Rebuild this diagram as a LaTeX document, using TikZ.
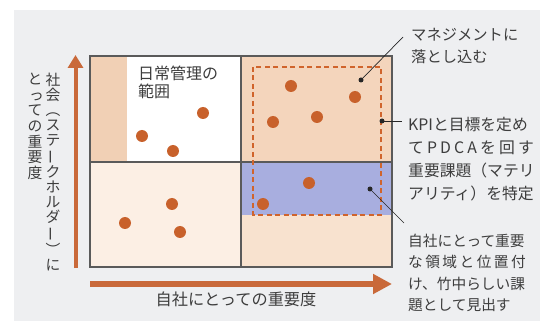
\documentclass[tikz,border=0pt]{standalone}
\usepackage{fontspec}
\usepackage{graphicx}
\setmainfont{Noto Sans CJK JP}
\usetikzlibrary{arrows.meta}
\definecolor{bggray}{HTML}{EEEFF1}
\definecolor{tlstrip}{HTML}{F1D0B5}
\definecolor{trtan}{HTML}{F4D5BC}
\definecolor{blfill}{HTML}{FCEFE4}
\definecolor{brblue}{HTML}{A8AEDF}
\definecolor{brpeach}{HTML}{F8E2CF}
\definecolor{dotcol}{HTML}{C8612B}
\definecolor{dashcol}{HTML}{D0642C}
\definecolor{arrcol}{HTML}{C9693A}
\definecolor{boxcol}{HTML}{5A5A5A}
\definecolor{txtcol}{HTML}{3D3D3D}
\newcommand{\vbar}{\rotatebox[origin=c]{90}{ー}}
\tikzset{
  boxline/.style={draw=boxcol, line width=1.1pt},
  dashbox/.style={draw=dashcol, line width=2.2pt, dash pattern=on 5pt off 3.5pt},
  pt/.style={circle, fill=dotcol, inner sep=0pt, minimum size=12pt},
  kdot/.style={circle, fill=black!85, inner sep=0pt, minimum size=5pt},
  leader/.style={draw=black!85, line width=0.7pt},
  lbl/.style={inner sep=0pt, text=txtcol, align=left, anchor=base west},
  vlbl/.style={inner sep=0pt, text=txtcol, align=center, anchor=north},
  axarrow/.style={draw=arrcol, -{Triangle[length=13pt,width=15pt]}, line width=4pt},
  axharrow/.style={draw=arrcol, -{Triangle[length=19pt,width=19pt]}, line width=5.5pt}
}
\begin{document}
\begin{tikzpicture}[x=1pt,y=-1pt]
\useasboundingbox (0,0) rectangle (550,321);
\fill[bggray] (14,10) rectangle (540,321);
% quadrants
\fill[tlstrip] (90,56) rectangle (127,162);
\fill[white] (127,56) rectangle (241,162);
\fill[trtan] (241,56) rectangle (392,162);
\fill[blfill] (90,162) rectangle (241,267);
\fill[brblue] (241,162) rectangle (392,215);
\fill[brpeach] (241,215) rectangle (392,267);
\draw[boxline] (90,56) rectangle (392,267);
\draw[boxline] (241,56) -- (241,267);
\draw[boxline] (90,162) -- (392,162);
\draw[dashbox] (253,67) rectangle (381,215);
% dots
\node[pt] (a1) at (203,113) {};
\node[pt] (a2) at (142,136) {};
\node[pt] (a3) at (173,151) {};
\node[pt] (b1) at (291,86) {};
\node[pt] (b2) at (355,97) {};
\node[pt] (b3) at (317,117) {};
\node[pt] (b4) at (273,122) {};
\node[pt] (c1) at (172,204) {};
\node[pt] (c2) at (125,223) {};
\node[pt] (c3) at (180,232) {};
\node[pt] (d1) at (309,183) {};
\node[pt] (d2) at (263,204) {};
% label in white area
\node[lbl, font=\fontsize{16}{18.5}\selectfont] (daily) at (138,98) {日常管理の\\範囲};
% axes
\coordinate (vs) at (75.5,268);
\coordinate (ve) at (75.5,55);
\draw[axarrow] (vs) -- (ve);
\coordinate (hs) at (90,284);
\coordinate (he) at (392,284);
\draw[axharrow] (hs) -- (he);
\node[inner sep=0pt, text=txtcol, anchor=base, font=\fontsize{16.2}{18}\selectfont] (xlab) at (236,305.5) {自社にとっての重要度};
\node[vlbl, font=\fontsize{14.8}{15}\selectfont] (ylab1) at (53,73) {社\\会\\︵\\ス\\テ\\\vbar\\ク\\ホ\\ル\\ダ\\\vbar\\︶\\に};
\node[vlbl, font=\fontsize{14.8}{15.6}\selectfont] (ylab2) at (35,73) {と\\\hspace*{0.2em}っ\\て\\の\\重\\要\\度};
% annotations
\node[lbl, font=\fontsize{15.3}{22}\selectfont] (t1) at (411,63) {マネジメントに\\落とし込む};
\node[lbl, font=\fontsize{15.8}{23.3}\selectfont] (t2) at (408,199.9) {KPIと目標を定め\\\makebox[7.95em][s]{て\hfill P\hfill D\hfill C\hfill A\hfill を\hfill 回\hfill す}\\重要課題（マテリ\\アリティ）を特定};
\node[lbl, font=\fontsize{14.7}{21.2}\selectfont] (t3) at (408,310.2) {自社にとって重要\\\makebox[8em][s]{な\hfill 領\hfill 域\hfill と\hfill 位\hfill 置\hfill 付}\\け、竹中らしい課\\題として見出す};
\node[kdot] (k1) at (361,80) {};
\node[kdot] (k2) at (382,121) {};
\node[kdot] (k3) at (370,189) {};
\coordinate (e1) at (403,37);
\coordinate (e2) at (402,121);
\coordinate (e3) at (404,223);
\draw[leader] (k1.center) -- (e1);
\draw[leader] (k2.center) -- (e2);
\draw[leader] (k3.center) -- (e3);
\end{tikzpicture}
\end{document}
